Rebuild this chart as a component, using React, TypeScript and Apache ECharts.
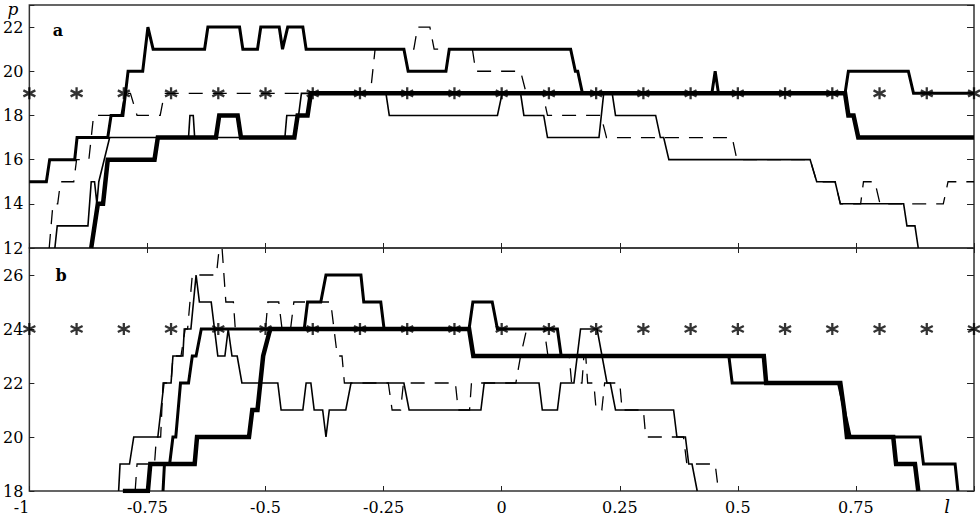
import React, { useEffect, useRef } from "react";
import * as echarts from "echarts";

// ---------- data ----------
const xMin = -1;
const xMax = 1;
const xStep = 0.25;
const yRangeA = [12, 23];
const yRangeB = [18, 27];
const yStep = 2;

const starX = [-1, -0.9, -0.8, -0.7, -0.6, -0.5, -0.4, -0.3, -0.2, -0.1, 0, 0.1, 0.2, 0.3, 0.4, 0.5, 0.6, 0.7, 0.8, 0.9, 1];
const starYA = 19;
const starYB = 24;

// panel a
const thickA: number[][] = [[-0.869,12],[-0.855,14],[-0.844,14],[-0.834,16],[-0.735,16],[-0.728,17],[-0.605,17],[-0.598,18],[-0.559,18],[-0.552,17],[-0.439,17],[-0.432,18],[-0.411,18],[-0.404,19],[0.727,19],[0.734,18],[0.745,18],[0.755,17],[1,17]];
const mediumA: number[][] = [[-1,15],[-0.964,15],[-0.957,16],[-0.904,16],[-0.899,17],[-0.834,17],[-0.827,18],[-0.802,18],[-0.791,20],[-0.760,20],[-0.749,22],[-0.738,21],[-0.629,21],[-0.622,22],[-0.555,22],[-0.548,21],[-0.517,21],[-0.510,22],[-0.471,22],[-0.464,21],[-0.453,22],[-0.421,22],[-0.414,21],[-0.207,21],[-0.198,20],[-0.118,20],[-0.111,21],[0.146,21],[0.156,20],[0.161,20],[0.171,19],[0.445,19],[0.452,20],[0.459,19],[0.727,19],[0.734,20],[0.861,20],[0.872,19],[1,19]];
const thinA: number[][] = [[-0.946,12],[-0.941,13],[-0.876,13],[-0.869,15],[-0.862,15],[-0.857,14],[-0.853,15],[-0.830,17],[-0.663,17],[-0.660,18],[-0.653,18],[-0.650,17],[-0.459,17],[-0.455,18],[-0.430,18],[-0.424,19],[-0.245,19],[-0.238,18],[-0.009,18],[0.001,19],[0.040,19],[0.047,18],[0.089,18],[0.097,17],[0.206,17],[0.216,19],[0.234,19],[0.241,18],[0.326,18],[0.336,17],[0.343,17],[0.354,16],[0.653,16],[0.667,15],[0.706,15],[0.717,14],[0.851,14],[0.858,13],[0.875,13],[0.882,12]];
const dashedA: number[][] = [[-0.958,12],[-0.950,14],[-0.940,14],[-0.934,15],[-0.906,15],[-0.900,16],[-0.874,16],[-0.864,18],[-0.806,18],[-0.798,19],[-0.786,19],[-0.772,18],[-0.723,18],[-0.714,19],[-0.278,19],[-0.268,21],[-0.186,21],[-0.178,22],[-0.152,22],[-0.143,21],[-0.062,21],[-0.055,20],[0.040,20],[0.052,19],[0.087,19],[0.097,18],[0.210,18],[0.222,17],[0.488,17],[0.498,16],[0.653,16],[0.667,15],[0.706,15],[0.717,14],[0.760,14],[0.766,15],[0.790,15],[0.801,14],[0.935,14],[0.945,15],[1,15]];

// panel b
const thickB: number[][] = [[-0.802,18],[-0.749,18],[-0.744,19],[-0.650,19],[-0.645,20],[-0.535,20],[-0.528,21],[-0.517,21],[-0.505,23],[-0.490,24],[-0.069,24],[-0.060,23],[0.555,23],[0.560,22],[0.717,22],[0.725,21],[0.731,20],[0.829,20],[0.835,19],[0.875,19],[0.882,18]];
const mediumB: number[][] = [[-0.717,18],[-0.714,19],[-0.703,19],[-0.696,20],[-0.690,20],[-0.680,22],[-0.663,22],[-0.655,23],[-0.647,23],[-0.636,24],[-0.418,24],[-0.411,25],[-0.383,25],[-0.372,26],[-0.298,26],[-0.292,25],[-0.256,25],[-0.249,24],[-0.069,24],[-0.061,25],[-0.020,25],[-0.009,24],[0.118,24],[0.126,23],[0.481,23],[0.488,22],[0.713,22],[0.738,20],[0.886,20],[0.893,19],[0.960,19],[0.966,18]];
const thinB: number[][] = [[-0.811,18],[-0.808,19],[-0.788,19],[-0.779,20],[-0.728,20],[-0.715,22],[-0.700,22],[-0.696,23],[-0.675,23],[-0.672,24],[-0.658,24],[-0.647,26],[-0.640,25],[-0.615,25],[-0.601,23],[-0.586,23],[-0.579,24],[-0.571,23],[-0.560,23],[-0.550,22],[-0.474,22],[-0.467,21],[-0.421,21],[-0.414,22],[-0.404,22],[-0.397,21],[-0.379,21],[-0.372,20],[-0.365,21],[-0.330,21],[-0.319,22],[-0.207,22],[-0.196,21],[-0.044,21],[-0.037,22],[0.079,22],[0.086,21],[0.118,21],[0.125,22],[0.153,22],[0.167,24],[0.202,24],[0.223,22],[0.230,22],[0.241,21],[0.364,21],[0.371,20],[0.389,20],[0.396,19],[0.403,19],[0.414,18]];
const dashedB: number[][] = [[-0.776,18],[-0.772,19],[-0.735,19],[-0.731,20],[-0.722,20],[-0.717,22],[-0.700,22],[-0.696,23],[-0.679,23],[-0.670,24],[-0.665,24],[-0.655,26],[-0.604,26],[-0.598,27],[-0.592,27],[-0.584,25],[-0.568,25],[-0.564,24],[-0.500,24],[-0.495,25],[-0.472,25],[-0.465,24],[-0.447,24],[-0.440,25],[-0.362,25],[-0.355,24],[-0.348,23],[-0.338,23],[-0.333,22],[-0.240,22],[-0.232,21],[-0.214,21],[-0.208,22],[-0.098,22],[-0.092,21],[-0.068,21],[-0.064,22],[0.030,22],[0.040,23],[0.053,24],[0.090,24],[0.098,23],[0.143,23],[0.148,22],[0.170,22],[0.174,23],[0.178,23],[0.182,22],[0.195,22],[0.200,21],[0.212,21],[0.218,22],[0.250,22],[0.255,21],[0.300,21],[0.305,20],[0.385,20],[0.392,19],[0.452,19],[0.459,18]];

const FONT = "DejaVu Serif";
const INK = "#000";

const asterisk = "path://M5,0L5,10M0.67,2.5L9.33,7.5M0.67,7.5L9.33,2.5";

function lineSeries(data: number[][], width: number, panel: number, dashed = false, z = 2) {
  return {
    type: "line",
    xAxisIndex: panel === 0 ? 0 : 1,
    yAxisIndex: panel === 0 ? 0 : 2,
    data,
    showSymbol: false,
    symbol: "none",
    z,
    lineStyle: { color: INK, width, type: dashed ? [14, 10] : "solid", cap: "butt", join: "miter" },
  };
}

export default function App() {
  const ref = useRef<HTMLDivElement>(null);
  useEffect(() => {
    if (!ref.current) return;
    const chart = echarts.init(ref.current, null, { renderer: "svg" });
    const tickStyle = { color: "#222", width: 1 };
    const labelFont = { fontFamily: FONT, fontSize: 16, color: INK };
    const xBase = {
      type: "value",
      min: xMin,
      max: xMax,
      interval: xStep,
      axisLine: { show: false, onZero: false },
      splitLine: { show: false },
      axisTick: { show: true, inside: true, length: 5, lineStyle: tickStyle },
    };
    const yLeft = (grid: number, r: number[]) => ({
      type: "value",
      gridIndex: grid,
      position: "left",
      min: r[0],
      max: r[1],
      interval: yStep,
      axisLine: { show: false, onZero: false },
      splitLine: { show: false },
      axisTick: { show: true, inside: true, length: 5, lineStyle: tickStyle },
      axisLabel: {
        show: true,
        margin: 6,
        ...labelFont,
        formatter: (v: number) => ((v - r[0]) % yStep === 0 ? String(v) : ""),
      },
    });
    const yRight = (grid: number, r: number[]) => ({
      type: "value",
      gridIndex: grid,
      position: "right",
      min: r[0],
      max: r[1],
      interval: yStep,
      axisLine: { show: false, onZero: false },
      splitLine: { show: false },
      axisTick: { show: true, inside: true, length: 7, lineStyle: tickStyle },
      axisLabel: { show: false },
    });
    const option = {
      animation: false,
      backgroundColor: "#fff",
      grid: [
        { left: 28, top: 5, width: 946, height: 243, show: true, borderColor: "#333", borderWidth: 1.5, backgroundColor: "transparent" },
        { left: 28, top: 248, width: 946, height: 243, show: true, borderColor: "#333", borderWidth: 1.5, backgroundColor: "transparent" },
      ],
      xAxis: [
        { ...xBase, gridIndex: 0, position: "bottom", axisLabel: { show: false } },
        {
          ...xBase,
          gridIndex: 1,
          position: "bottom",
          axisLabel: {
            show: true,
            margin: 8,
            alignMinLabel: "right",
            ...labelFont,
            formatter: (v: number) => (v === xMax ? "" : String(v)),
          },
        },
        { ...xBase, gridIndex: 1, position: "top", axisLabel: { show: false } },
      ],
      yAxis: [yLeft(0, yRangeA), yRight(0, yRangeA), yLeft(1, yRangeB), yRight(1, yRangeB)],
      series: [
        lineSeries(dashedA, 1.3, 0, true, 2),
        lineSeries(thinA, 1.6, 0, false, 3),
        lineSeries(mediumA, 3, 0, false, 4),
        lineSeries(thickA, 4.5, 0, false, 5),
        lineSeries(dashedB, 1.3, 1, true, 2),
        lineSeries(thinB, 1.6, 1, false, 3),
        lineSeries(mediumB, 3, 1, false, 4),
        lineSeries(thickB, 4.5, 1, false, 5),
        {
          type: "scatter",
          xAxisIndex: 0,
          yAxisIndex: 0,
          data: starX.map((x) => [x, starYA]),
          symbol: asterisk,
          symbolSize: 12,
          z: 10,
          clip: false,
          itemStyle: { color: INK, borderColor: INK, borderWidth: 2.3 },
        },
        {
          type: "scatter",
          xAxisIndex: 1,
          yAxisIndex: 2,
          data: starX.map((x) => [x, starYB]),
          symbol: asterisk,
          symbolSize: 12,
          z: 10,
          clip: false,
          itemStyle: { color: INK, borderColor: INK, borderWidth: 2.3 },
        },
      ],
      graphic: [
        { type: "text", x: 13, y: 0, style: { text: "p", font: `italic 17px ${FONT}`, fill: INK, align: "center", verticalAlign: "top" } },
        { type: "text", x: 947, y: 506, style: { text: "l", font: `italic 18px ${FONT}`, fill: INK, align: "center", verticalAlign: "middle" } },
        { type: "text", x: 58, y: 30, style: { text: "a", font: `bold 16px ${FONT}`, fill: INK, align: "center", verticalAlign: "middle" } },
        { type: "text", x: 61, y: 275, style: { text: "b", font: `bold 16px ${FONT}`, fill: INK, align: "center", verticalAlign: "middle" } },
      ],
    };
    chart.setOption(option as any);
    return () => chart.dispose();
  }, []);
  return (
    <div style={{ position: "fixed", left: 0, top: 0, width: 980, height: 516, background: "#fff" }}>
      <div ref={ref} style={{ width: 980, height: 516 }} />
    </div>
  );
}
